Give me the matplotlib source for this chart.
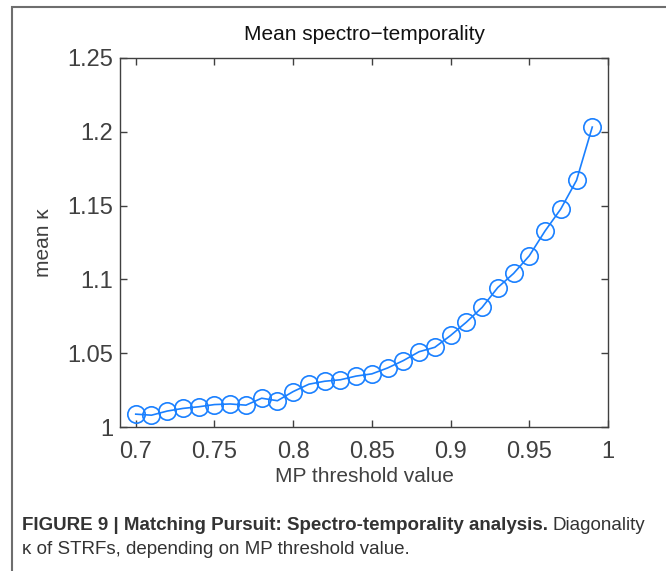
import numpy as np
import matplotlib.pyplot as plt
from matplotlib.patches import Rectangle

# MP threshold values and mean kappa
thresholds = [0.70, 0.71, 0.72, 0.73, 0.74, 0.75, 0.76, 0.77, 0.78, 0.79,
              0.80, 0.81, 0.82, 0.83, 0.84, 0.85, 0.86, 0.87, 0.88, 0.89,
              0.90, 0.91, 0.92, 0.93, 0.94, 0.95, 0.96, 0.97, 0.98, 0.99]
mean_kappa = [1.0087, 1.0080, 1.0108, 1.0126, 1.0137, 1.0152, 1.0156, 1.0148, 1.0195, 1.0178,
              1.0240, 1.0290, 1.0310, 1.0320, 1.0345, 1.0360, 1.0400, 1.0450, 1.0510, 1.0540,
              1.0620, 1.0710, 1.0810, 1.0945, 1.1040, 1.1160, 1.1328, 1.1477, 1.1671, 1.2032]

xticks = [0.7, 0.75, 0.8, 0.85, 0.9, 0.95, 1]
xticklabels = ['0.7', '0.75', '0.8', '0.85', '0.9', '0.95', '1']
yticks = [1, 1.05, 1.1, 1.15, 1.2, 1.25]
yticklabels = ['1', '1.05', '1.1', '1.15', '1.2', '1.25']

plt.rcParams['font.family'] = ['Liberation Sans', 'DejaVu Sans']

W, H = 666, 571
fig = plt.figure(figsize=(W / 100, H / 100), dpi=100)
ax = fig.add_axes([120 / W, 1 - 427 / H, (608 - 120) / W, (427 - 58) / H])

line_col = '#1a80ff'
ax.plot(thresholds, mean_kappa, color=line_col, lw=1.2, marker='o', ms=12.5,
        markerfacecolor='none', markeredgecolor=line_col, markeredgewidth=1.2)

ax.set_xlim(0.69, 1.0)
ax.set_ylim(1.0, 1.25)
ax.set_xticks(xticks)
ax.set_xticklabels(xticklabels)
ax.set_yticks(yticks)
ax.set_yticklabels(yticklabels)

axis_col = '#404040'
for s in ax.spines.values():
    s.set_color(axis_col)
    s.set_linewidth(1.0)
ax.tick_params(direction='in', length=5, width=1.0, colors=axis_col,
               labelsize=17, top=True, right=True)
ax.tick_params(axis='x', pad=10)
ax.tick_params(axis='y', pad=5)

ax.set_title('Mean spectro\u2212temporality', fontsize=15, color='#111111', pad=13)
ax.set_xlabel('MP threshold value', fontsize=15, color=axis_col, labelpad=3)
ax.set_ylabel('mean \u03ba', fontsize=15, color=axis_col, labelpad=10)

# frame around figure panel
fig.patches.append(Rectangle((12 / W, -0.1), 1.2, 1 - 7 / H + 0.1,
                             transform=fig.transFigure, fill=False,
                             edgecolor='#6e6e6e', lw=1.5))

# caption
cap_col = '#333333'
cap_size = 13.5
t1 = fig.text(22 / W, 1 - 525 / H,
              'FIGURE 9 | Matching Pursuit: Spectro-temporality analysis.',
              fontsize=cap_size, fontweight='bold', color=cap_col, va='center')
fig.canvas.draw()
bb = t1.get_window_extent()
fig.text((bb.x1 + 5) / W, 1 - 525 / H, 'Diagonality',
         fontsize=cap_size, color=cap_col, va='center')
fig.text(22 / W, 1 - 549 / H, '\u03ba of STRFs, depending on MP threshold value.',
         fontsize=cap_size, color=cap_col, va='center')

fig.savefig('out.png', dpi=100)
